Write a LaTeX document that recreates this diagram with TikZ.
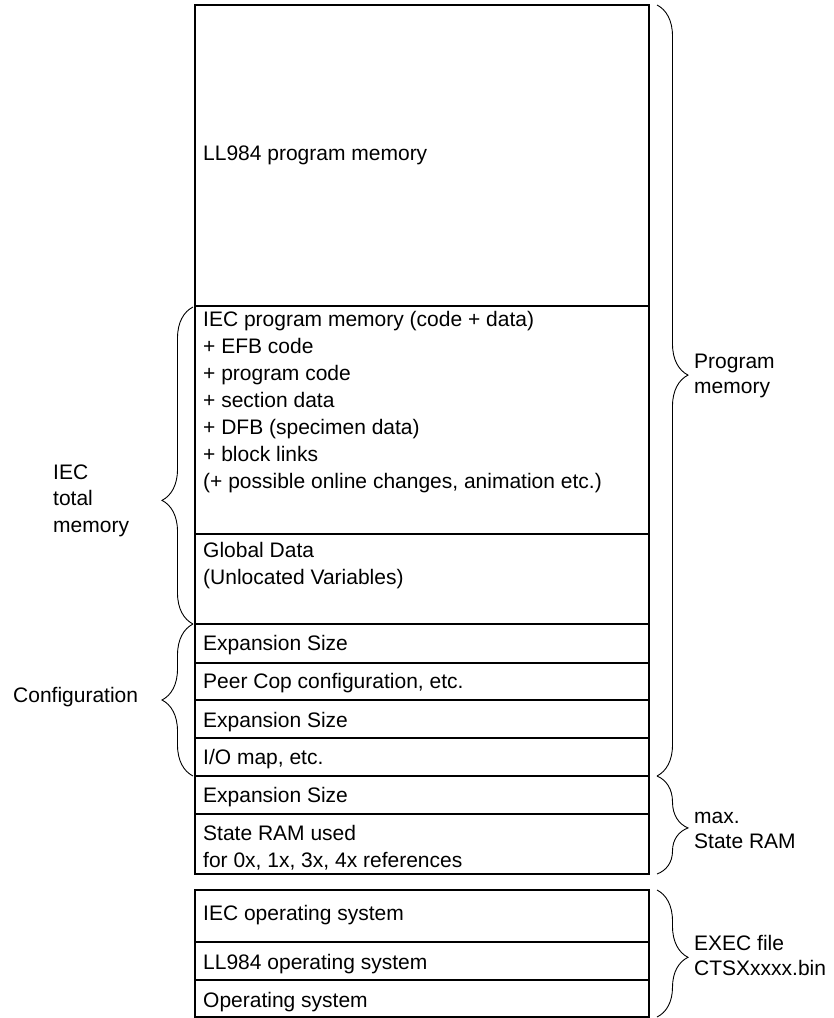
\documentclass[tikz,border=0pt]{standalone}
\usepackage{fontspec}
\setmainfont{Liberation Sans}
\usetikzlibrary{decorations.pathreplacing}
\begin{document}
\begin{tikzpicture}[x=1pt,y=-1pt,
 blk/.style={line width=2.2pt},
 txt/.style={anchor=base west,inner sep=0pt,align=left,font=\fontsize{21}{27}\selectfont},
 side/.style={anchor=base west,inner sep=0pt,align=left,font=\fontsize{21}{25}\selectfont},
 brc/.style={decorate,decoration={brace,amplitude=31pt,aspect=#1},line width=0.9pt}]
\useasboundingbox (0,0) rectangle (834,1018);
% memory map
\draw[blk] (195,5) rectangle (649,874);
\foreach \y in {306,534,624,663,700,738,776,814}
 \draw[blk] (195,\y) -- (649,\y);
% operating system
\draw[blk] (195,890) rectangle (649,1017);
\foreach \y in {942,980}
 \draw[blk] (195,\y) -- (649,\y);
% block texts (base = last line)
\node[txt] (ll) at (203,160) {LL984 program memory};
\node[txt] (iecprog) at (203,488) {IEC program memory (code + data)\\+ EFB code\\+ program code\\+ section data\\+ DFB (specimen data)\\+ block links\\(+ possible online changes, animation etc.)};
\node[txt] (glob) at (203,584) {Global Data\\(Unlocated Variables)};
\node[txt] (exp1) at (203,650) {Expansion Size};
\node[txt] (peer) at (203,688) {Peer Cop configuration, etc.};
\node[txt] (exp2) at (203,727) {Expansion Size};
\node[txt] (iomap) at (203,764) {I/O map, etc.};
\node[txt] (exp3) at (203,802) {Expansion Size};
\node[txt] (sram) at (203,867) {State RAM used\\for 0x, 1x, 3x, 4x references};
\node[txt] (iecos) at (203,920) {IEC operating system};
\node[txt] (llos) at (203,969) {LL984 operating system};
\node[txt] (os) at (203,1007) {Operating system};
% braces
\coordinate (pm1) at (657,5);
\coordinate (pm2) at (657,776);
\coordinate (sr2) at (657,874);
\coordinate (ex1) at (657,890);
\coordinate (ex2) at (657,1017);
\coordinate (ie1) at (193,307);
\coordinate (ie2) at (193,624);
\coordinate (cf2) at (193,776);
\draw[brc=0.48] (pm1) -- (pm2);
\draw[brc=0.53] (pm2) -- (sr2);
\draw[brc=0.53] (ex1) -- (ex2);
\draw[brc=0.39] (ie2) -- (ie1);
\draw[brc=0.5] (cf2) -- (ie2);
% brace labels
\node[side] (progmem) at (694,393) {Program\\memory};
\node[side] (maxsram) at (694,848) {max.\\State RAM};
\node[side] (exec) at (694,975) {EXEC file\\CTSXxxxx.bin};
\node[txt,font=\fontsize{21}{26.5}\selectfont] (ieclbl) at (53,532) {IEC\\total\\memory};
\node[txt] (conf) at (13,702) {Configuration};
\end{tikzpicture}
\end{document}
